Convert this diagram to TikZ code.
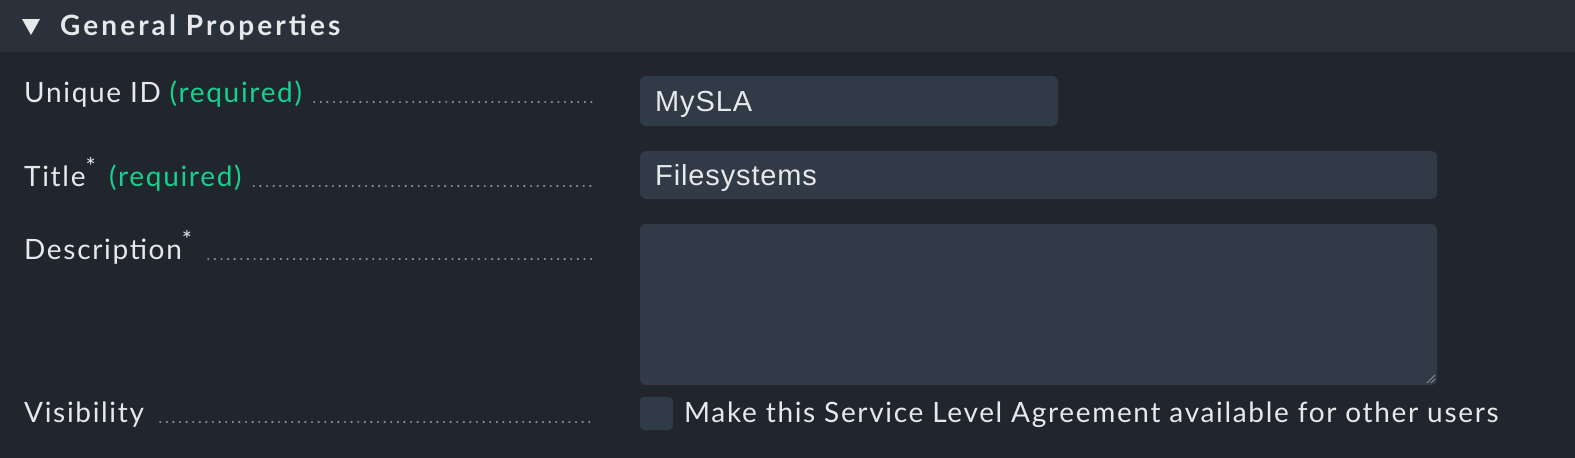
\documentclass[tikz,border=0pt]{standalone}
\usepackage{fontspec}
\setmainfont{Lato}[LetterSpace=6]
\newfontfamily\inputfont{Liberation Sans}[LetterSpace=3]
\usetikzlibrary{positioning}
\definecolor{pagebg}{HTML}{21262E}
\definecolor{headbg}{HTML}{2A313B}
\definecolor{fieldbg}{HTML}{313A47}
\definecolor{labeltxt}{HTML}{E6E8EA}
\definecolor{reqgreen}{HTML}{15D18C}
\definecolor{leader}{HTML}{8A9099}
\begin{document}
\begin{tikzpicture}[x=1pt, y=-1pt]
        % Styles
        \tikzset{label/.style={anchor=base west, inner sep=0pt, text=labeltxt, font=\fontsize{28}{32}\selectfont},
          field/.style={fill=fieldbg, rounded corners=6pt},
          intext/.style={anchor=base west, inner sep=0pt, text=labeltxt, font=\inputfont\fontsize{29}{32}\selectfont},
          dots/.style={leader, line width=2.4pt, dash pattern=on 0pt off 6.6pt, line cap=round}}

        % Background
        \fill[pagebg] (0,0) rectangle (1575,458);
        \fill[headbg] (0,0) rectangle (1575,52);
        \useasboundingbox (0,0) rectangle (1575,458);

        % Header
        \fill[labeltxt] (22,19) -- (40,19) -- (31,35) -- cycle;
        \node[label, font=\bfseries\addfontfeatures{LetterSpace=11}\fontsize{28}{30}\selectfont] (head) at (60,35) {General Properties};

        % Labels
        \node[label] (uid) at (24,102) {Unique ID \textcolor{reqgreen}{(required)}};
        \node[label] (title) at (24,186) {Title\raisebox{11pt}{\fontsize{24}{24}\selectfont*}\, \textcolor{reqgreen}{(required)}};
        \node[label] (desc) at (24,259) {Description\raisebox{11pt}{\fontsize{24}{24}\selectfont*}};
        \node[label] (vis) at (24,422) {Visibility};

        % Leaders
        \coordinate (e1) at (592,102);
        \coordinate (e2) at (592,186);
        \coordinate (e3) at (592,259);
        \coordinate (e4) at (592,422);
        \draw[dots] ([xshift=12pt]uid.base east) -- (e1);
        \draw[dots] ([xshift=12pt]title.base east) -- (e2);
        \draw[dots] ([xshift=16pt]desc.base east) -- (e3);
        \draw[dots] ([xshift=16pt]vis.base east) -- (e4);

        % Fields
        \fill[field] (640,76) rectangle (1058,126);
        \node[intext] (v1) at (655,111) {MySLA};
        \fill[field] (640,151) rectangle (1437,199);
        \node[intext] (v2) at (655,185) {Filesystems};
        \fill[field] (640,224) rectangle (1437,385);
        \draw[leader, line width=0.8pt] (1427,383) -- (1435,375) (1431,383) -- (1435,379);
        \fill[field, rounded corners=4pt] (640,397) rectangle (673,430);
        \node[label] (chk) at (684,422) {Make this Service Level Agreement available for other users};
    \end{tikzpicture}
\end{document}
